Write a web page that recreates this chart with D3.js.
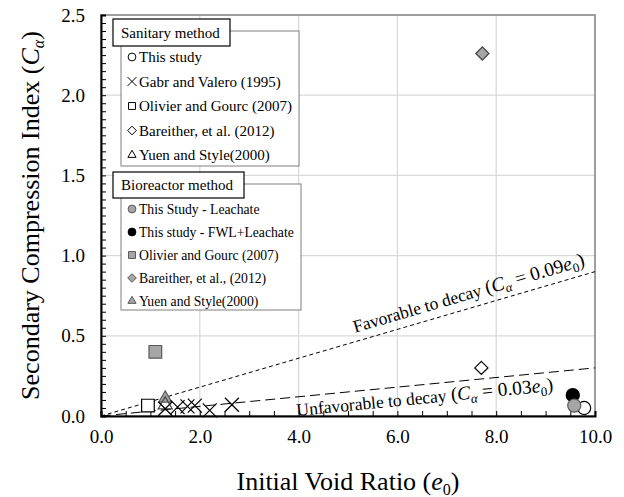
<!DOCTYPE html>
<meta charset="utf-8" />
<script src="https://d3js.org/d3.v7.min.js"></script>
<body style="margin:0;background:#fff">
<div id="chart"></div>
<script>
// sanitary method
const thisStudyE0 = [9.78];
const thisStudyCa = [0.05];
const gabrE0 = [1.3, 1.55, 1.75, 1.9, 2.2, 2.65];
const gabrCa = [0.045, 0.055, 0.06, 0.065, 0.035, 0.07];
const olivierE0 = [0.95];
const olivierCa = [0.065];
const bareitherE0 = [7.7];
const bareitherCa = [0.3];
const yuenE0 = [1.3];
const yuenCa = [0.07];
// bioreactor method
const leachateE0 = [9.58];
const leachateCa = [0.065];
const fwlE0 = [9.55];
const fwlCa = [0.13];
const olivierBioE0 = [1.1];
const olivierBioCa = [0.4];
const bareitherBioE0 = [7.72];
const bareitherBioCa = [2.26];
const yuenBioE0 = [1.3];
const yuenBioCa = [0.11];

const xTicks = [0, 2, 4, 6, 8, 10];
const yTicks = [0, 0.5, 1.0, 1.5, 2.0, 2.5];
const sanitaryLegend = ["This study", "Gabr and Valero (1995)", "Olivier and Gourc (2007)", "Bareither, et al. (2012)", "Yuen and Style(2000)"];
const bioLegend = ["This Study - Leachate", "This study - FWL+Leachate", "Olivier and Gourc (2007)", "Bareither, et al., (2012)", "Yuen and Style(2000)"];

var W = 624, H = 497;
var margin = { top: 15, right: 29, bottom: 81, left: 101 };
var width = W - margin.left - margin.right,
  height = H - margin.top - margin.bottom;
var serif = "'Liberation Serif', 'Times New Roman', serif";

var svg = d3.select("#chart").append("svg").attr("width", W).attr("height", H)
  .style("font-family", serif);
var g = svg.append("g").attr("transform", "translate(" + margin.left + "," + margin.top + ")");

var x = d3.scaleLinear().domain([0, 10]).range([0, width]);
var y = d3.scaleLinear().domain([0, 2.5]).range([height, 0]);

// grid
g.append("g").selectAll("line").data([2, 4, 6, 8]).join("line")
  .attr("x1", d => x(d)).attr("x2", d => x(d)).attr("y1", 0).attr("y2", height)
  .attr("stroke", "#d9d9d9").attr("stroke-width", 1.3);
g.append("g").selectAll("line").data([0.5, 1.0, 1.5, 2.0]).join("line")
  .attr("y1", d => y(d)).attr("y2", d => y(d)).attr("x1", 0).attr("x2", width)
  .attr("stroke", "#d9d9d9").attr("stroke-width", 1.3);
g.append("rect").attr("width", width).attr("height", height)
  .attr("fill", "none").attr("stroke", "#7f7f7f").attr("stroke-width", 1.5);

// minor ticks pointing inward
var xMinor = d3.range(0, 10.01, 0.5);
var yMinor = d3.range(0, 2.501, 0.05);
g.append("g").attr("transform", "translate(0," + height + ")")
  .call(d3.axisBottom(x).tickValues(xMinor).tickSize(-5).tickFormat(""))
  .call(a => a.select(".domain").attr("stroke-width", 2));
g.append("g")
  .call(d3.axisLeft(y).tickValues(yMinor).tickSize(-5).tickFormat(""))
  .call(a => a.select(".domain").attr("stroke-width", 2));

// tick labels
g.append("g").attr("transform", "translate(0," + height + ")")
  .call(d3.axisBottom(x).tickValues(xTicks).tickSize(0).tickPadding(14).tickFormat(d3.format(".1f")))
  .call(a => a.select(".domain").remove())
  .selectAll("text").style("font-size", "19px").style("font-family", serif).attr("fill", "#000");
g.append("g")
  .call(d3.axisLeft(y).tickValues(yTicks).tickSize(0).tickPadding(16).tickFormat(d3.format(".1f")))
  .call(a => a.select(".domain").remove())
  .selectAll("text").style("font-size", "19px").style("font-family", serif).attr("fill", "#000");

// reference lines
function refLine(k, dash) {
  g.append("line").attr("x1", x(0)).attr("y1", y(0)).attr("x2", x(10)).attr("y2", y(k * 10))
    .attr("stroke", "#000").attr("stroke-width", 1).attr("stroke-dasharray", dash);
}
refLine(0.09, "4,3");
refLine(0.03, "10,5");

function lineLabel(k, xs, dy, pre, coef) {
  var ang = Math.atan2(y(0) - y(k * 10), x(10) - x(0)) * 180 / Math.PI;
  var t = g.append("text")
    .attr("transform", "translate(" + x(xs) + "," + (y(k * xs) + dy) + ") rotate(" + (-ang) + ")")
    .style("font-size", "17.5px");
  t.append("tspan").text(pre + " ");
  t.append("tspan").style("font-size", "19.5px").text("(");
  t.append("tspan").style("font-style", "italic").style("font-size", "19.5px").text("C");
  t.append("tspan").style("font-style", "italic").style("font-size", "13px").attr("dy", 4).text("α");
  t.append("tspan").style("font-size", "19.5px").attr("dy", -4).text(" = " + coef);
  t.append("tspan").style("font-style", "italic").style("font-size", "19.5px").text("e");
  t.append("tspan").style("font-size", "13px").attr("dy", 4).text("0");
  t.append("tspan").style("font-size", "19.5px").attr("dy", -4).text(")");
}
lineLabel(0.09, 5.14, -9, "Favorable to decay", "0.09");
lineLabel(0.03, 3.97, 19, "Unfavorable to decay", "0.03");

// symbols
var sym = {
  circle: d3.symbol().type(d3.symbolCircle),
  square: d3.symbol().type(d3.symbolSquare),
  diamond: d3.symbol().type(d3.symbolDiamond2),
  triangle: d3.symbol().type(d3.symbolTriangle2),
  cross: d3.symbol().type(d3.symbolX)
};
function drawSeries(xs, ys, kind, size, fill, stroke) {
  var data = xs.map((v, i) => [v, ys[i]]);
  g.append("g").selectAll("path").data(data).join("path")
    .attr("transform", d => "translate(" + x(d[0]) + "," + y(d[1]) + ")")
    .attr("d", sym[kind].size(size)())
    .attr("fill", fill).attr("stroke", stroke).attr("stroke-width", 1.2);
}
drawSeries(yuenBioE0, yuenBioCa, "triangle", 120, "#a6a6a6", "#595959");
drawSeries(yuenE0, yuenCa, "triangle", 140, "none", "#404040");
drawSeries(gabrE0, gabrCa, "cross", 130, "none", "#000");
drawSeries(olivierE0, olivierCa, "square", 160, "#fff", "#000");
drawSeries(bareitherE0, bareitherCa, "diamond", 110, "#fff", "#000");
drawSeries(olivierBioE0, olivierBioCa, "square", 160, "#a6a6a6", "#595959");
drawSeries(bareitherBioE0, bareitherBioCa, "diamond", 110, "#a6a6a6", "#404040");
drawSeries(fwlE0, fwlCa, "circle", 135, "#000", "#000");
drawSeries(thisStudyE0, thisStudyCa, "circle", 135, "#fff", "#000");
drawSeries(leachateE0, leachateCa, "circle", 135, "#a6a6a6", "#595959");

// legends
function legend(top, hH, header, headerW, items, kinds, fills, strokes, fs, gap, boxW, boxBottom) {
  var lg = svg.append("g");
  lg.append("rect").attr("x", 121).attr("y", top + 12).attr("width", boxW).attr("height", boxBottom - top - 12)
    .attr("fill", "#fff").attr("stroke", "#7f7f7f").attr("stroke-width", 1);
  lg.append("rect").attr("x", 113).attr("y", top).attr("width", headerW).attr("height", hH)
    .attr("fill", "#fff").attr("stroke", "#000").attr("stroke-width", 1.2);
  lg.append("text").attr("x", 121).attr("y", top + hH / 2 + 5).style("font-size", "15px").text(header);
  items.forEach(function (name, i) {
    var yy = top + hH + 11 + i * gap;
    lg.append("path").attr("transform", "translate(132," + yy + ")")
      .attr("d", sym[kinds[i]].size(kinds[i] == "cross" ? 55 : 48)())
      .attr("fill", fills[i]).attr("stroke", strokes[i]).attr("stroke-width", 1);
    lg.append("text").attr("x", 139).attr("y", yy + 5).style("font-size", fs).text(name);
  });
}
legend(19, 27, "Sanitary method", 117, sanitaryLegend,
  ["circle", "cross", "square", "diamond", "triangle"],
  ["#fff", "none", "#fff", "#fff", "#fff"],
  ["#000", "#000", "#000", "#000", "#000"], "15px", 24.5, 178, 166);
legend(172, 26, "Bioreactor method", 131, bioLegend,
  ["circle", "circle", "square", "diamond", "triangle"],
  ["#a6a6a6", "#000", "#a6a6a6", "#a6a6a6", "#a6a6a6"],
  ["#595959", "#000", "#595959", "#595959", "#595959"], "13.7px", 23, 180, 310);

// axis titles
var xt = svg.append("text").attr("x", margin.left + width / 2).attr("y", 490)
  .attr("text-anchor", "middle").style("font-size", "26px");
xt.append("tspan").text("Initial Void Ratio (");
xt.append("tspan").style("font-style", "italic").text("e");
xt.append("tspan").style("font-size", "16px").attr("dy", 5).text("0");
xt.append("tspan").attr("dy", -5).text(")");

var yt = svg.append("text").attr("transform", "translate(39," + (margin.top + height / 2) + ") rotate(-90)")
  .attr("text-anchor", "middle").style("font-size", "26px");
yt.append("tspan").text("Secondary Compression Index (");
yt.append("tspan").style("font-style", "italic").text("C");
yt.append("tspan").style("font-style", "italic").style("font-size", "16px").attr("dy", 5).text("α");
yt.append("tspan").attr("dy", -5).text(")");
</script>
</body>
